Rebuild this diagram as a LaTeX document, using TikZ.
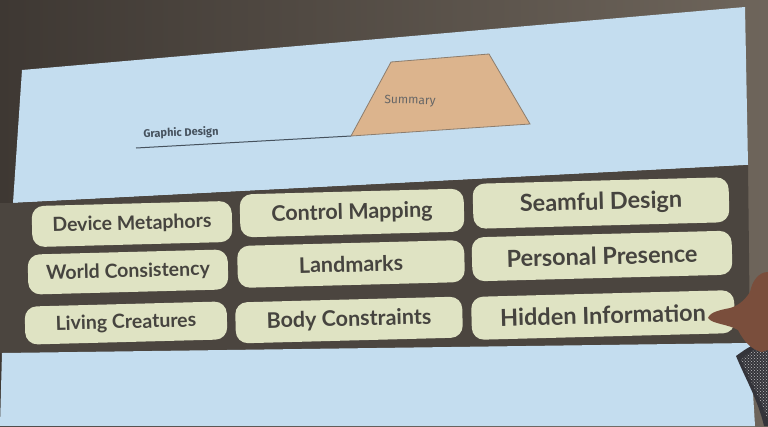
\documentclass[tikz,border=0pt]{standalone}
\usepackage{fontspec}
\setmainfont{Lato}
\newfontfamily\labelfont{Fira Sans}
\usetikzlibrary{calc,patterns}
\definecolor{wallL}{HTML}{3E3833}
\definecolor{wallR}{HTML}{6E655B}
\definecolor{screen}{HTML}{C4DDEF}
\definecolor{band}{HTML}{4B453F}
\definecolor{tile}{HTML}{DFE3C3}
\definecolor{ink}{HTML}{46443F}
\definecolor{tan}{HTML}{DCB48D}
\definecolor{tanline}{HTML}{8C7D6E}
\definecolor{axis}{HTML}{46525E}
\definecolor{skin}{HTML}{7A4E3C}
\definecolor{sleeve}{HTML}{34343A}
\tikzset{
  tilebox/.style={draw=none, fill=tile, rounded corners=12pt, rotate=1.5,
    text=ink, font=\bfseries, inner sep=0pt, align=center},
  colA/.style={tilebox, font=\fontsize{19.5}{22}\selectfont\bfseries},
  colB/.style={tilebox, font=\fontsize{21.5}{24}\selectfont\bfseries},
  colC/.style={tilebox, font=\fontsize{23.5}{26}\selectfont\bfseries},
}
\begin{document}
\begin{tikzpicture}[x=1pt,y=-1pt]
\useasboundingbox (0,0) rectangle (768,426);
% wall behind the screen
\shade[left color=wallL, right color=wallR] (0,0) rectangle (768,426);
% projected slide: upper panel, dark band, lower panel
\fill[screen] (22,70) -- (745,7) -- (748,165) -- (13,203) -- cycle;
\fill[band] (13,203) -- (748,165) -- (750,343) -- (2,353) -- (0,353) -- (0,203) -- cycle;
\fill[screen] (2,353) -- (750,343) -- (755,426) -- (0,426) -- cycle;

% timeline with the summary trapezoid
\coordinate (gstart) at (136,148);
\coordinate (tbl) at (351,136);
\coordinate (ttl) at (391,62);
\coordinate (ttr) at (489,54);
\coordinate (tbr) at (530,124);
\draw[axis, line width=1pt] (gstart) -- (tbl);
\filldraw[fill=tan, draw=tanline, line width=0.8pt] (tbl) -- (ttl) -- (ttr) -- (tbr) -- cycle;
\node[text=black!60, font=\labelfont\fontsize{12}{14}\selectfont, rotate=-2] (summary) at (410,101) {Summary};
\node[text=axis, font=\labelfont\fontsize{11}{13}\selectfont\bfseries, rotate=2] (graphic) at (181,133) {Graphic Design};

% design principles grid
\node[colA, minimum width=200pt, minimum height=41pt] (dm) at (132,224) {Device Metaphors};
\node[colB, minimum width=224pt, minimum height=43pt] (cm) at (352,213) {Control Mapping};
\node[colC, minimum width=256pt, minimum height=45pt] (sd) at (601,203) {Seamful Design};
\node[colA, minimum width=200pt, minimum height=40pt] (wc) at (128,272) {World Consistency};
\node[colB, minimum width=227pt, minimum height=42pt] (lm) at (351,264) {Landmarks};
\node[colC, minimum width=260pt, minimum height=44pt] (pp) at (602,256) {Personal Presence};
\node[colA, minimum width=202pt, minimum height=38pt] (lc) at (126,323) {Living Creatures};
\node[colB, minimum width=227pt, minimum height=41pt] (bc) at (349,320) {Body Constraints};
\node[colC, minimum width=263pt, minimum height=43pt] (hi) at (603,315) {Hidden Information};

% presenter's hand reaching in from the right
\fill[sleeve] (736,356) .. controls (750,346) .. (768,340) -- (768,426) -- (764,426)
  .. controls (758,400) and (746,380) .. (736,356) -- cycle;
\fill[pattern=crosshatch dots, pattern color=white!75!black] (741,360) .. controls (752,350) .. (768,346)
  -- (768,420) .. controls (760,398) and (750,380) .. (741,360) -- cycle;
\fill[skin] (768,272) .. controls (758,272) and (752,282) .. (750,292)
  .. controls (745,300) and (738,306) .. (730,308)
  .. controls (720,310) and (710,312) .. (708,318)
  .. controls (712,324) and (728,324) .. (738,330)
  .. controls (744,342) and (752,350) .. (762,352) -- (768,350) -- cycle;
\end{tikzpicture}
\end{document}
